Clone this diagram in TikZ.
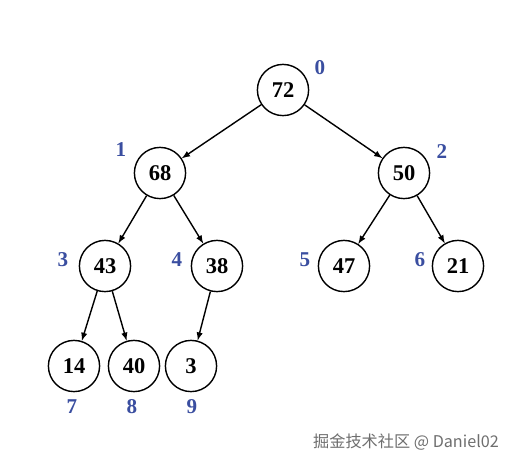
\documentclass[tikz,border=0pt]{standalone}
\usepackage{fontspec}
\setmainfont{Liberation Serif}
\newfontfamily\cjkfont{Noto Sans CJK SC}
\usetikzlibrary{arrows}
\definecolor{idxblue}{RGB}{58,78,160}
\definecolor{markgray}{RGB}{110,110,110}

\begin{document}
\begin{tikzpicture}[
    x=0.025cm, y=-0.025cm,
    heapnode/.style = {circle, draw=black, line width=1pt, minimum size=1.28cm, inner sep=0pt, font=\fontsize{16}{19}\selectfont\bfseries},
    idx/.style = {text=idxblue, font=\fontsize{15}{18}\selectfont\bfseries},
    edge/.style = {->, >=latex, line width=1pt}
]
\useasboundingbox (0,0) rectangle (520,470);

% Heap nodes, level by level
\node[heapnode] (n0) at (283,90) {72};
\node[heapnode] (n1) at (160,173) {68};
\node[heapnode] (n2) at (404,173) {50};
\node[heapnode] (n3) at (105,266) {43};
\node[heapnode] (n4) at (217,266) {38};
\node[heapnode] (n5) at (344,266) {47};
\node[heapnode] (n6) at (458,266) {21};
\node[heapnode] (n7) at (74,366) {14};
\node[heapnode] (n8) at (134,366) {40};
\node[heapnode] (n9) at (191,366) {3};

% Array indices
\node[idx] (i0) at (320,68) {0};
\node[idx] (i1) at (121,150) {1};
\node[idx] (i2) at (442,152) {2};
\node[idx] (i3) at (63,260) {3};
\node[idx] (i4) at (177,260) {4};
\node[idx] (i5) at (305,260) {5};
\node[idx] (i6) at (420,260) {6};
\node[idx] (i7) at (72,407) {7};
\node[idx] (i8) at (132,407) {8};
\node[idx] (i9) at (192,407) {9};

% Parent -> child edges
\draw[edge] (n0) -- (n1);
\draw[edge] (n0) -- (n2);
\draw[edge] (n1) -- (n3);
\draw[edge] (n1) -- (n4);
\draw[edge] (n2) -- (n5);
\draw[edge] (n2) -- (n6);
\draw[edge] (n3) -- (n7);
\draw[edge] (n3) -- (n8);
\draw[edge] (n4) -- (n9);

% Watermark
\node[text=markgray, font=\cjkfont\fontsize{11.5}{14}\selectfont] (mark) at (406,442) {掘金技术社区 @ Daniel02};

\end{tikzpicture}
\end{document}
